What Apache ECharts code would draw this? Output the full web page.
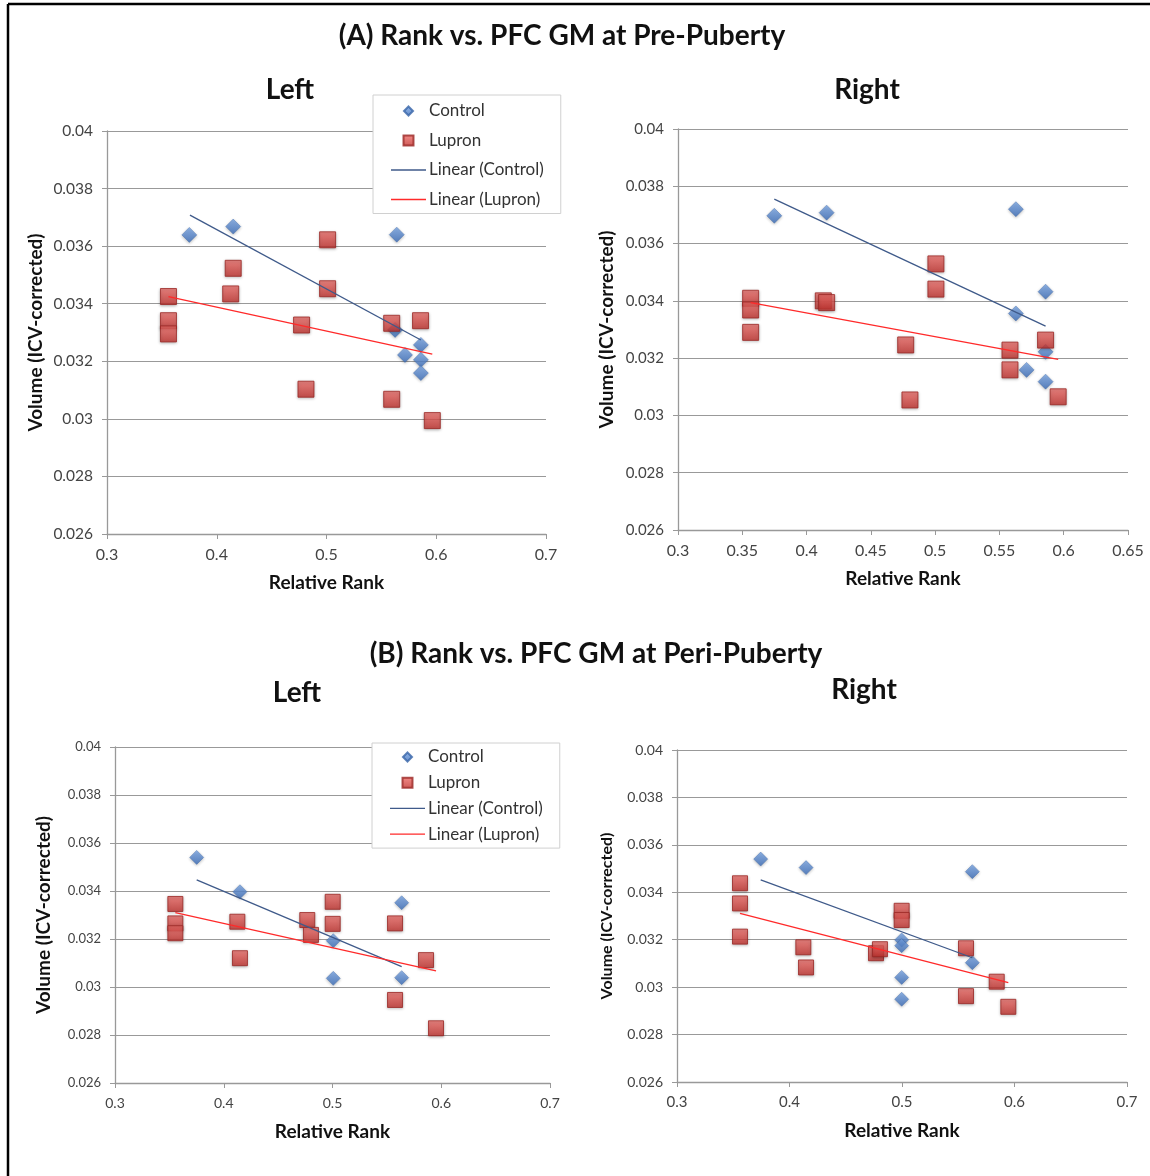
<!DOCTYPE html>
<html>
<head>
<meta charset="utf-8">
<script src="https://cdn.jsdelivr.net/npm/echarts@6/dist/echarts.min.js"></script>
<style>
html,body{margin:0;padding:0;background:#fff;}
#chart{width:1150px;height:1176px;}
</style>
</head>
<body>
<div id="chart"></div>
<script>
// ---------- DATA ----------
const panelTitles = ['(A) Rank vs. PFC GM at Pre-Puberty', '(B) Rank vs. PFC GM at Peri-Puberty'];
const sideTitles = ['Left', 'Right'];
const seriesNames = ['Control', 'Lupron', 'Linear (Control)', 'Linear (Lupron)'];
const xAxisName = 'Relative Rank';
const yAxisName = 'Volume (ICV-corrected)';

// (A) Pre-Puberty, Left
const aLeftControlX = [0.375, 0.415, 0.564, 0.5625, 0.586, 0.5715, 0.586, 0.586];
const aLeftControlY = [0.03639, 0.03668, 0.0364, 0.03309, 0.03257, 0.03222, 0.03205, 0.03159];
const aLeftLupronX = [0.356, 0.356, 0.356, 0.415, 0.4127, 0.501, 0.501, 0.4773, 0.4813, 0.5594, 0.5857, 0.5594, 0.5964];
const aLeftLupronY = [0.03425, 0.03341, 0.03295, 0.03523, 0.03434, 0.03622, 0.03452, 0.03326, 0.03103, 0.03332, 0.03341, 0.03068, 0.02994];
const aLeftTrendControl = [[0.3756, 0.03708], [0.586, 0.03274]];
const aLeftTrendLupron = [[0.356, 0.03425], [0.5964, 0.03225]];

// (A) Pre-Puberty, Right
const aRightControlX = [0.3749, 0.4156, 0.5628, 0.5628, 0.5859, 0.5859, 0.5711, 0.5859];
const aRightControlY = [0.03697, 0.03708, 0.0372, 0.03356, 0.03432, 0.03222, 0.03159, 0.03118];
const aRightLupronX = [0.3565, 0.3565, 0.3565, 0.413, 0.4156, 0.5006, 0.5006, 0.4771, 0.4804, 0.5582, 0.5582, 0.5859, 0.5957];
const aRightLupronY = [0.03409, 0.03368, 0.0329, 0.034, 0.03394, 0.03529, 0.03441, 0.03246, 0.03054, 0.03228, 0.03159, 0.03263, 0.03065];
const aRightTrendControl = [[0.3749, 0.03755], [0.5859, 0.03312]];
const aRightTrendLupron = [[0.3565, 0.03394], [0.5957, 0.03196]];

// (B) Peri-Puberty, Left
const bLeftControlX = [0.3751, 0.4149, 0.5007, 0.5007, 0.5636, 0.5636];
const bLeftControlY = [0.0354, 0.03397, 0.03193, 0.03036, 0.03351, 0.03039];
const bLeftLupronX = [0.3555, 0.3555, 0.3555, 0.4125, 0.4149, 0.4768, 0.4802, 0.5002, 0.5002, 0.5575, 0.5575, 0.586, 0.5952];
const bLeftLupronY = [0.03346, 0.03265, 0.03224, 0.03272, 0.0312, 0.03279, 0.03217, 0.03355, 0.03263, 0.03265, 0.02946, 0.03112, 0.02828];
const bLeftTrendControl = [[0.3751, 0.03446], [0.5636, 0.03085]];
const bLeftTrendLupron = [[0.3555, 0.0331], [0.5952, 0.03067]];

// (B) Peri-Puberty, Right
const bRightControlX = [0.3744, 0.4147, 0.4997, 0.4997, 0.4997, 0.4997, 0.5625, 0.5625];
const bRightControlY = [0.0354, 0.03504, 0.03199, 0.03175, 0.03041, 0.02949, 0.03487, 0.03103];
const bRightLupronX = [0.356, 0.356, 0.356, 0.4123, 0.4147, 0.4769, 0.4804, 0.4997, 0.4997, 0.5569, 0.5569, 0.5842, 0.5945];
const bRightLupronY = [0.03438, 0.03353, 0.03213, 0.03168, 0.03083, 0.03143, 0.0316, 0.03322, 0.03283, 0.03164, 0.02962, 0.03023, 0.02917];
const bRightTrendControl = [[0.3744, 0.03452], [0.5625, 0.03124]];
const bRightTrendLupron = [[0.356, 0.03311], [0.5945, 0.03019]];

// axis ranges
const yMin = 0.026, yMax = 0.04, yStep = 0.002;
const xRangesA = [[0.3, 0.7, 0.1], [0.3, 0.65, 0.05]];
const xRangesB = [[0.3, 0.7, 0.1], [0.3, 0.7, 0.1]];

// ---------- BUILD ----------
const FONT = 'Lato, "Open Sans", sans-serif';
const zip = (xs, ys) => xs.map((x, i) => [x, ys[i]]);
const CTRL_LINE = '#3f5a8a', LUP_LINE = '#ff2a2a';

const panels = [
  {cx: aLeftControlX, cy: aLeftControlY, lx: aLeftLupronX, ly: aLeftLupronY, tc: aLeftTrendControl, tl: aLeftTrendLupron,
   grid: {left: 107, top: 131, width: 439, height: 403}, xr: xRangesA[0], yGap: 62, yNameSize: 19,
   yLab: 15.5, xLab: 16, sym: [15, 16]},
  {cx: aRightControlX, cy: aRightControlY, lx: aRightLupronX, ly: aRightLupronY, tc: aRightTrendControl, tl: aRightTrendLupron,
   grid: {left: 678, top: 129, width: 450, height: 401}, xr: xRangesA[1], yGap: 62, yNameSize: 19,
   yLab: 15, xLab: 16, sym: [15, 16]},
  {cx: bLeftControlX, cy: bLeftControlY, lx: bLeftLupronX, ly: bLeftLupronY, tc: bLeftTrendControl, tl: bLeftTrendLupron,
   grid: {left: 115, top: 747, width: 435, height: 336}, xr: xRangesB[0], yGap: 62, yNameSize: 19,
   yLab: 13, xLab: 14, sym: [14, 15]},
  {cx: bRightControlX, cy: bRightControlY, lx: bRightLupronX, ly: bRightLupronY, tc: bRightTrendControl, tl: bRightTrendLupron,
   grid: {left: 677, top: 750, width: 450, height: 332}, xr: xRangesB[1], yGap: 62, yNameSize: 16,
   yLab: 14, xLab: 15, sym: [14, 15]}
];

const blueFill = new echarts.graphic.LinearGradient(0, 0, 0, 1, [
  {offset: 0, color: '#79a6e6'}, {offset: 1, color: '#3a6cb8'}]);
const redFill = new echarts.graphic.LinearGradient(0, 0, 0, 1, [
  {offset: 0, color: '#f06e6a'}, {offset: 1, color: '#c0302c'}]);

const grids = [], xAxes = [], yAxes = [], series = [];
panels.forEach((p, i) => {
  grids.push(Object.assign({containLabel: false}, p.grid));
  xAxes.push({
    type: 'value', gridIndex: i, min: p.xr[0], max: p.xr[1], interval: p.xr[2],
    name: xAxisName, nameLocation: 'middle', nameGap: 39,
    nameTextStyle: {fontFamily: FONT, fontWeight: 'bold', fontSize: 19, color: '#111'},
    axisLine: {show: true, onZero: false, lineStyle: {color: '#999', width: 1.3}},
    axisTick: {show: true, inside: false, length: 5, lineStyle: {color: '#999'}},
    axisLabel: {fontFamily: FONT, fontSize: p.xLab, color: '#444', margin: 13},
    splitLine: {show: false}
  });
  yAxes.push({
    type: 'value', gridIndex: i, min: yMin, max: yMax, interval: yStep,
    name: yAxisName, nameLocation: 'middle', nameGap: p.yGap,
    nameTextStyle: {fontFamily: FONT, fontWeight: 'bold', fontSize: p.yNameSize, color: '#111'},
    axisLine: {show: true, onZero: false, lineStyle: {color: '#999', width: 1.3}},
    axisTick: {show: true, inside: false, length: 5, lineStyle: {color: '#999'}},
    axisLabel: {fontFamily: FONT, fontSize: p.yLab, color: '#444', margin: 14},
    splitLine: {show: true, lineStyle: {color: '#999', width: 1.2}}
  });
  series.push({
    name: seriesNames[0], type: 'scatter', xAxisIndex: i, yAxisIndex: i,
    symbol: 'diamond', symbolSize: p.sym[0], data: zip(p.cx, p.cy), z: 2,
    itemStyle: {color: blueFill, borderColor: '#3764a8', borderWidth: 0.5,
      shadowBlur: 3, shadowColor: 'rgba(0,0,0,0.3)', shadowOffsetY: 1}
  });
  series.push({
    name: seriesNames[1], type: 'scatter', xAxisIndex: i, yAxisIndex: i,
    symbol: 'rect', symbolSize: p.sym[1], data: zip(p.lx, p.ly), z: 3,
    itemStyle: {color: redFill, borderColor: '#9a2623', borderWidth: 1,
      shadowBlur: 3, shadowColor: 'rgba(0,0,0,0.35)', shadowOffsetY: 1}
  });
  series.push({
    name: seriesNames[2], type: 'line', xAxisIndex: i, yAxisIndex: i,
    symbol: 'none', data: p.tc, z: 4, silent: true,
    lineStyle: {color: CTRL_LINE, width: 1.3}, itemStyle: {color: CTRL_LINE}
  });
  series.push({
    name: seriesNames[3], type: 'line', xAxisIndex: i, yAxisIndex: i,
    symbol: 'none', data: p.tl, z: 4, silent: true,
    lineStyle: {color: LUP_LINE, width: 1.3}, itemStyle: {color: LUP_LINE}
  });
});

// legend marker icons: the leading "M0,0 M35,10" fixes a 35x10 box so the marker keeps its shape
const ICON_DIAMOND = 'path://M0,0 M35,10 M17.5,0.5 L22,5 L17.5,9.5 L13,5 Z';
const ICON_SQUARE = 'path://M0,0 M35,10 M12.5,0 L22.5,0 L22.5,10 L12.5,10 Z';

function legendAt(left, top, gap, padTop, padBottom) {
  return {
    orient: 'vertical', left: left, top: top,
    padding: [padTop, 17, padBottom, 17], itemGap: gap,
    itemWidth: 35, itemHeight: 10,
    backgroundColor: '#fff', borderColor: '#d0d0d0', borderWidth: 1,
    textStyle: {fontFamily: FONT, fontSize: 17, color: '#333', lineHeight: 18, padding: [0, 0, 0, -2]},
    selectedMode: false,
    data: [
      {name: seriesNames[0], icon: ICON_DIAMOND},
      {name: seriesNames[1], icon: ICON_SQUARE},
      {name: seriesNames[2], itemStyle: {opacity: 0}, lineStyle: {color: CTRL_LINE, width: 1.3}},
      {name: seriesNames[3], itemStyle: {opacity: 0}, lineStyle: {color: LUP_LINE, width: 1.3}}
    ]
  };
}

const titleText = (txt, x, y, size) => ({
  type: 'text', x: x, y: y, silent: true,
  style: {text: txt, fontFamily: FONT, fontWeight: 'bold', fontSize: size, fill: '#111',
    textAlign: 'center', textVerticalAlign: 'middle'}
});

const option = {
  backgroundColor: '#fff',
  animation: false,
  grid: grids, xAxis: xAxes, yAxis: yAxes, series: series,
  legend: [legendAt(373, 95, 11.5, 7, 5), legendAt(372, 743, 7.7, 5, 5)],
  graphic: [
    {type: 'line', shape: {x1: 8, y1: 4, x2: 1150, y2: 4}, style: {stroke: '#000', lineWidth: 2.5}, silent: true},
    {type: 'line', shape: {x1: 8, y1: 4, x2: 8, y2: 1176}, style: {stroke: '#000', lineWidth: 2.5}, silent: true},
    titleText(panelTitles[0], 562, 36, 28),
    titleText(sideTitles[0], 290, 90, 28),
    titleText(sideTitles[1], 867, 90, 28),
    titleText(panelTitles[1], 596, 654, 28),
    titleText(sideTitles[0], 297, 693, 28),
    titleText(sideTitles[1], 864, 690, 28)
  ]
};

const chart = echarts.init(document.getElementById('chart'), null, {renderer: 'canvas'});
chart.setOption(option);
</script>
</body>
</html>
